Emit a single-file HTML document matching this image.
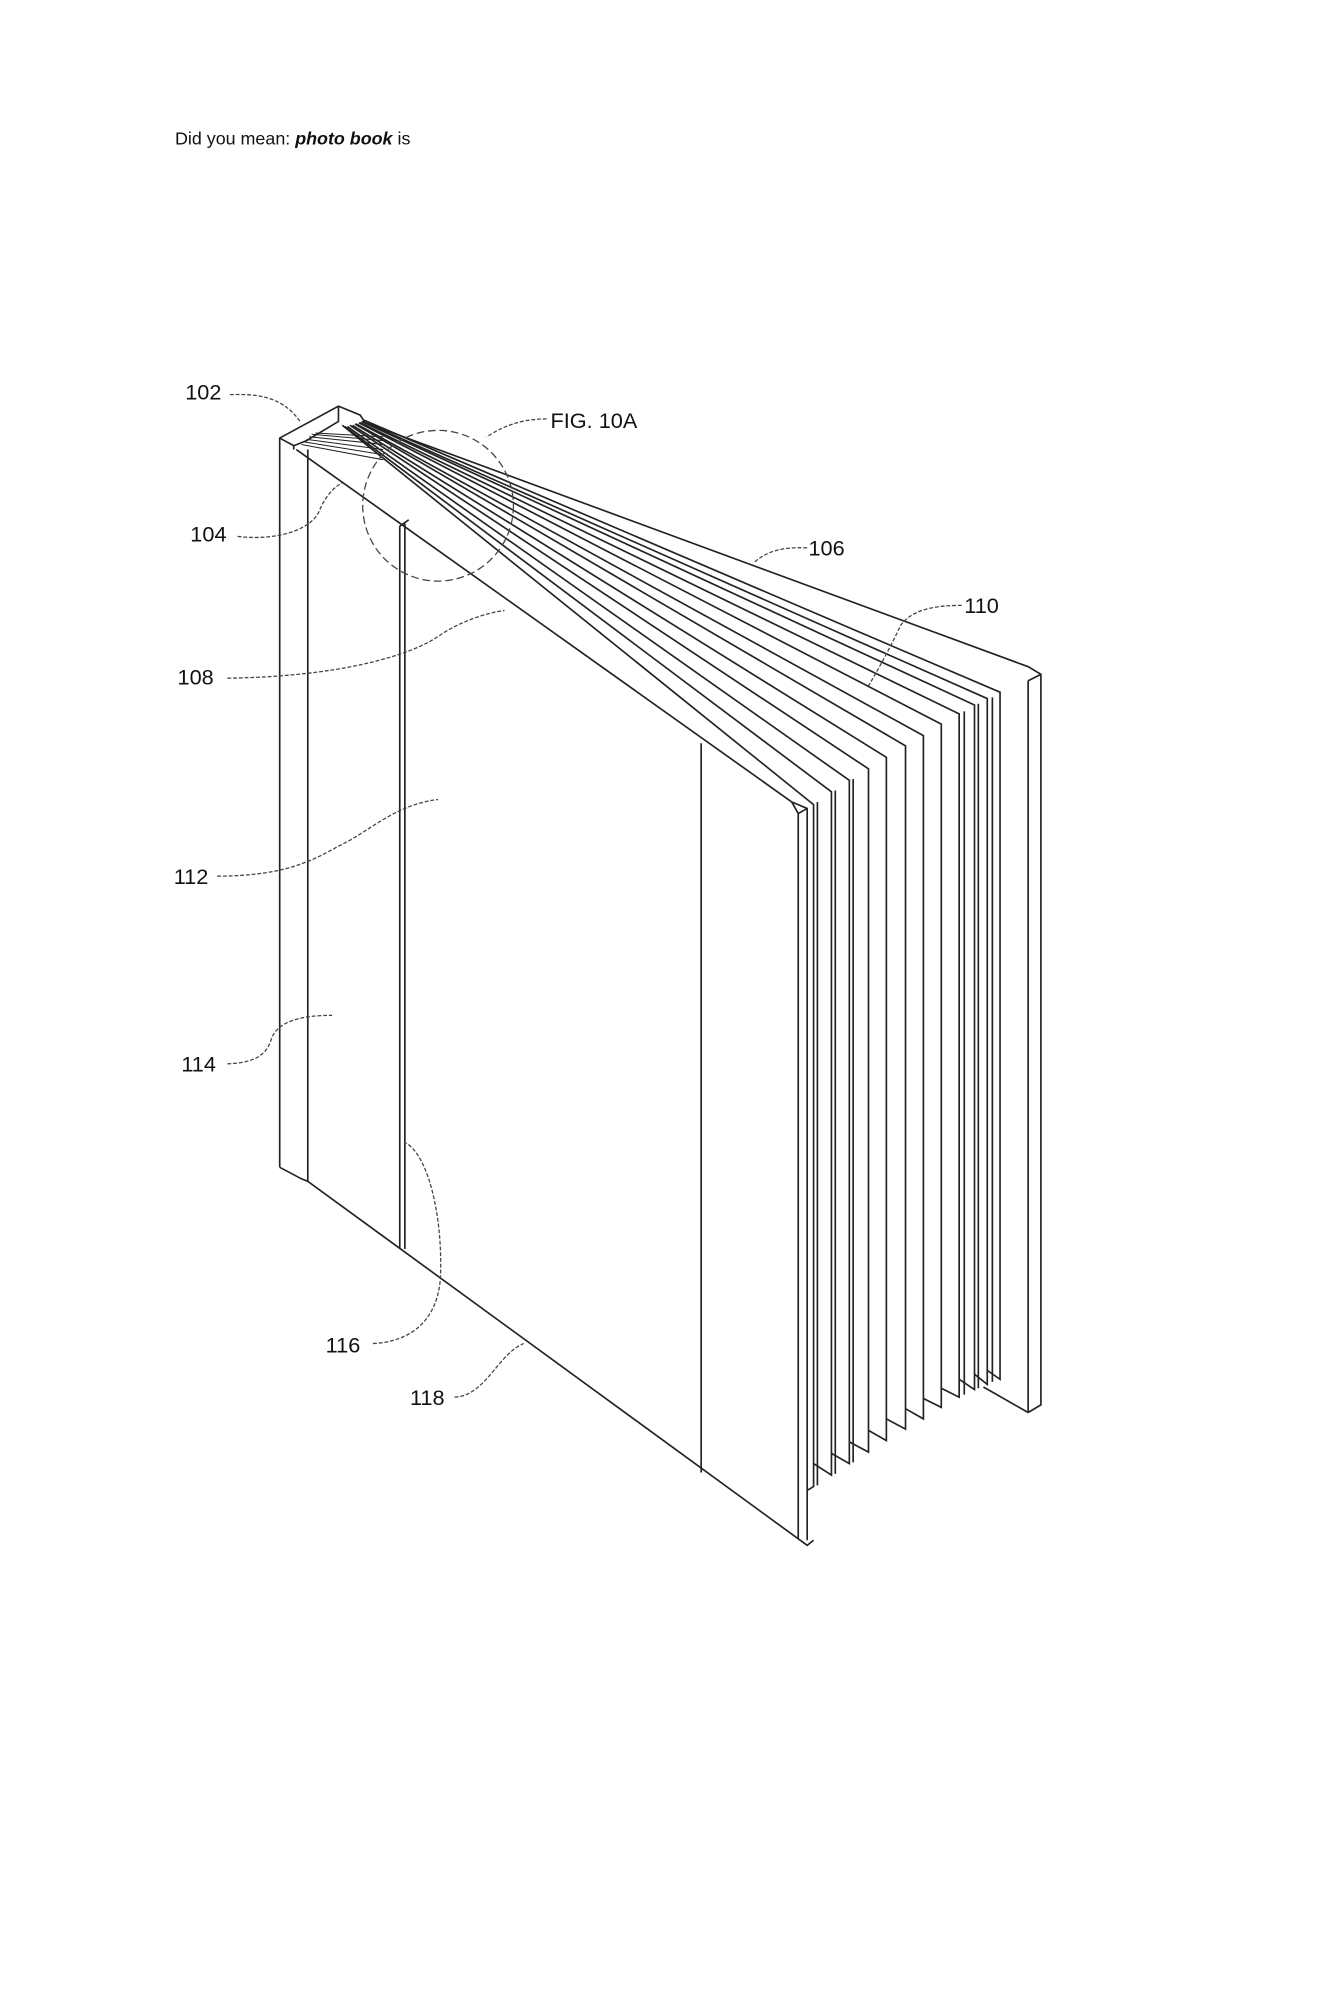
<!DOCTYPE html>
<html><head><style>
html,body{margin:0;padding:0;background:#fff;width:1327px;height:2000px;overflow:hidden}
svg{display:block}
text{font-family:"Liberation Sans",sans-serif;fill:#111}
</style></head><body>
<svg width="1327" height="2000" viewBox="0 0 1039 1566" preserveAspectRatio="none">
<text x="137" y="113" font-size="14">Did you mean: <tspan font-weight="bold" font-style="italic">photo book</tspan> is</text>
<g fill="none" stroke="#222" stroke-width="1.3">
<polyline points="219,914 219,343 265,318 282,325 286,331 805,522 815,528 815,1100 805,1106"/>
<polyline points="219,343 230,349 240,345 265,330 265,318"/>
<line x1="230" y1="349" x2="230" y2="352"/>
<line x1="241" y1="352" x2="241" y2="925"/>
<polyline points="219,914 236,923 241,925 632,1210 637,1206"/>
<line x1="815" y1="528" x2="805" y2="533"/>
<line x1="805" y1="533" x2="805" y2="1106"/>
<polyline points="805,1106 770,1086"/>
<line x1="232" y1="352" x2="620" y2="628"/>
<line x1="313" y1="412" x2="313" y2="978"/>
<line x1="317" y1="410" x2="317" y2="978"/>
<line x1="313" y1="412" x2="320" y2="407"/>
<line x1="549" y1="582" x2="549" y2="1153"/>
<polyline points="620,628 632,633 632,1206"/>
<polyline points="620,628 625,637 625,1205"/>
<line x1="625" y1="637" x2="632" y2="633"/>
<g>
<polyline points="268,333 637,630 637,1164 632,1167"/>
<polyline points="270,334 651,620 651,1155 637,1146"/>
<polyline points="272,334 665,611 665,1146 651,1138"/>
<polyline points="274,333 680,602 680,1137 665,1129"/>
<polyline points="276,333 694,593 694,1128 680,1120"/>
<polyline points="278,332 709,584 709,1119 694,1111"/>
<polyline points="279,332 723,576 723,1111 709,1103"/>
<polyline points="281,331 737,567 737,1102 723,1095"/>
<polyline points="282,331 751,559 751,1094 737,1087"/>
<polyline points="283,330 763,552 763,1088 751,1080"/>
<polyline points="284,330 773,547 773,1084 763,1076"/>
<polyline points="285,329 783,542 783,1080 773,1073"/>
</g>
<line x1="640" y1="628" x2="640" y2="1163"/>
<line x1="654" y1="619" x2="654" y2="1154"/>
<line x1="668" y1="610" x2="668" y2="1145"/>
<line x1="755" y1="557" x2="755" y2="1092"/>
<line x1="766" y1="551" x2="766" y2="1087"/>
<line x1="777" y1="546" x2="777" y2="1082"/>
<path d="M236,348 L300,360 M238,346 L300,356 M240,344 L300,352 M242,342 L300,348 M244,340 L300,345 M247,339 L300,342" stroke-width="0.8"/>
</g>
<circle cx="343" cy="396" r="59" fill="none" stroke="#444" stroke-width="1" stroke-dasharray="6,3"/>
<g fill="none" stroke="#444" stroke-width="1" stroke-dasharray="3,1.5">
<path d="M180,309 C205,308 222,312 235,330"/>
<path d="M186,420 C220,424 245,413 250,400 C255,388 262,381 268,378"/>
<path d="M178,531 C260,530 320,515 345,497 C360,487 380,480 395,478"/>
<path d="M170,686 C230,686 250,670 270,660 C290,650 310,630 343,626"/>
<path d="M178,833 C200,832 208,826 212,815 C216,800 235,795 260,795"/>
<path d="M292,1052 C330,1050 345,1025 345,995 C346,950 335,905 318,895"/>
<path d="M356,1094 C380,1093 390,1060 410,1052"/>
<path d="M428,328 C400,328 385,340 381,342"/>
<path d="M632,429 C612,428 600,432 591,440"/>
<path d="M753,474 C725,474 712,480 705,490 C698,505 690,520 680,537"/>
</g>
<g font-size="17">
<text x="145" y="313">102</text>
<text x="149" y="424">104</text>
<text x="633" y="435">106</text>
<text x="139" y="536">108</text>
<text x="755" y="480">110</text>
<text x="136" y="692">112</text>
<text x="142" y="839">114</text>
<text x="255" y="1059">116</text>
<text x="321" y="1100">118</text>
<text x="431" y="335">FIG. 10A</text>
</g>
</svg>
</body></html>
